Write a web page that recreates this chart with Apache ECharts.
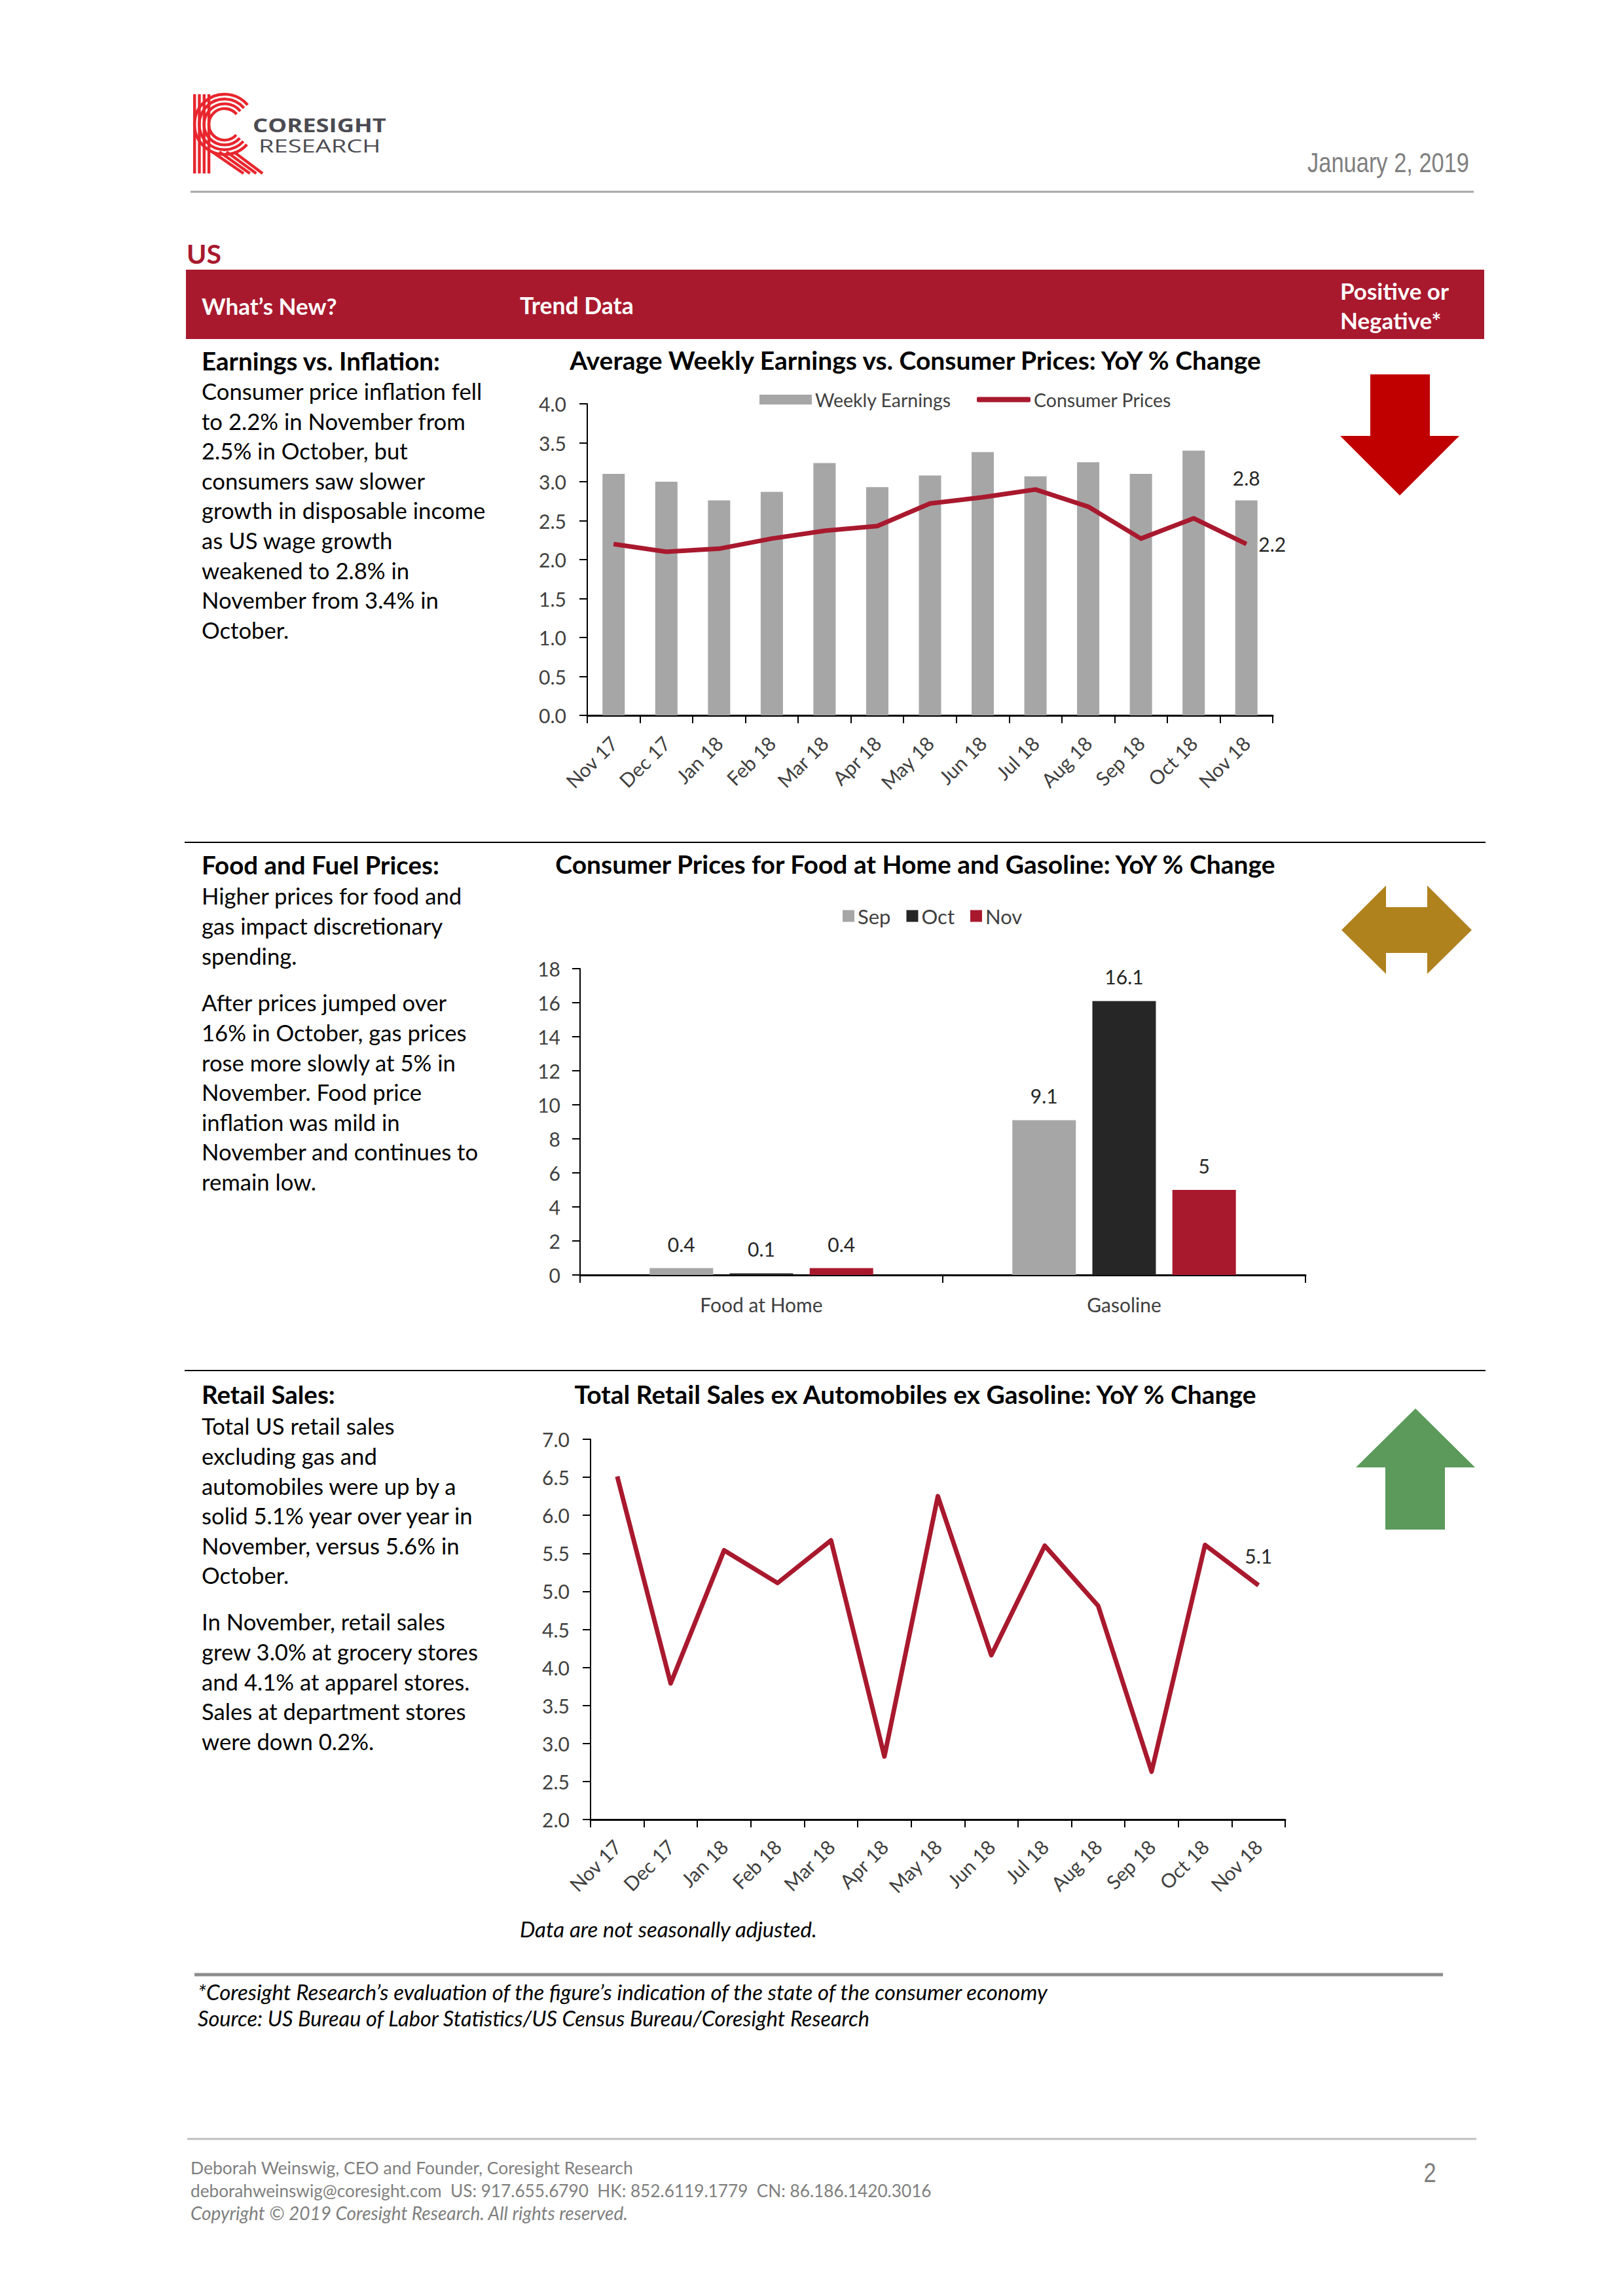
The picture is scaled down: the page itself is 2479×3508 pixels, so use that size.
<!DOCTYPE html>
<html><head><meta charset="utf-8">
<script src="https://cdn.jsdelivr.net/npm/echarts@6/dist/echarts.min.js"></script>
<style>html,body{margin:0;padding:0;background:#fff}#c{width:2479px;height:3508px}</style>
</head><body><div id="c"></div>
<script>
// ---------- DATA ----------
const months = ['Nov 17','Dec 17','Jan 18','Feb 18','Mar 18','Apr 18','May 18','Jun 18','Jul 18','Aug 18','Sep 18','Oct 18','Nov 18'];
const weeklyEarnings = [3.10,3.00,2.76,2.87,3.24,2.93,3.08,3.38,3.07,3.25,3.10,3.40,2.76];
const consumerPrices = [2.20,2.10,2.14,2.27,2.37,2.43,2.72,2.80,2.90,2.68,2.27,2.53,2.20];
const foodCategories = ['Food at Home','Gasoline'];
const sepValues = [0.4, 9.1];
const octValues = [0.1, 16.1];
const novValues = [0.4, 5];
const retailSales = [6.51,3.79,5.54,5.11,5.67,2.83,6.25,4.16,5.60,4.81,2.63,5.61,5.08];
const axis1 = {min:0, max:4, interval:0.5};
const axis2 = {min:0, max:18, interval:2};
const axis3 = {min:2, max:7, interval:0.5};

const RED = '#A9192E';
const FONT = 'Lato';
const BODY = 34.7;
const HEAD = 39;

// ---------- page graphics ----------
const G = [];
function T(s, x, base, size, o) {
  o = o || {};
  const el = {type:'text', x:x, y:base - 0.32*size, z:10, silent:true,
    style:{text:s, fontFamily:o.f||FONT, fontSize:size, fontWeight:o.w||'normal',
      fontStyle:o.i?'italic':'normal', fill:o.c||'#000', align:o.a||'left', verticalAlign:'middle'}};
  if (o.sx) { el.scaleX = o.sx; }
  G.push(el);
}
function P(lines, x, base, size, lh, o) { lines.forEach((l,k)=>T(l, x, base + k*lh, size, o)); }
function L(x1,y1,x2,y2,c,w) { G.push({type:'line', z:5, silent:true, shape:{x1,y1,x2,y2}, style:{stroke:c, lineWidth:w}}); }
function POLY(pts, c) { G.push({type:'polygon', z:5, silent:true, shape:{points:pts}, style:{fill:c}}); }

// logo
for (let i=0;i<4;i++) G.push({type:'rect', silent:true, shape:{x:295+i*7.3, y:144, width:4.4, height:121}, style:{fill:'#E8262E'}});
for (let i=0;i<4;i++) G.push({type:'arc', silent:true, shape:{cx:343, cy:190, r:46-i*7.3, startAngle:42*Math.PI/180, endAngle:320*Math.PI/180, clockwise:true}, style:{stroke:'#E8262E', lineWidth:4.4, fill:null}});
for (let i=0;i<4;i++) L(324+i*11, 232, 372+i*9.7, 265, '#E8262E', 4.4);
T('CORESIGHT', 386, 200, 28, {w:'bold', c:'#4B4B52', f:'"Open Sans"', sx:1.3});
T('RESEARCH', 395, 231, 28, {c:'#4B4B52', f:'"Open Sans"', sx:1.36});

// date & header rule
T('January 2, 2019', 2244, 262, 42, {f:'"Liberation Sans"', c:'#7F7F7F', a:'right', sx:0.82});
L(291, 293, 2251, 293, '#A6A6A6', 3);

// US + red band
T('US', 285, 401, 41, {w:'bold', c:RED});
G.push({type:'rect', silent:true, shape:{x:284, y:412, width:1983, height:106}, style:{fill:RED}});
T('What\u2019s New?', 308, 478, 35, {w:'bold', c:'#fff'});
T('Trend Data', 794, 478, 35.5, {w:'bold', c:'#fff'});
T('Positive or', 2047, 455, 35, {w:'bold', c:'#fff'});
T('Negative*', 2047, 500, 35, {w:'bold', c:'#fff'});

// section 1 text
T('Earnings vs. Inflation:', 308, 563, 38.5, {w:'bold'});
P(['Consumer price inflation fell','to 2.2% in November from','2.5% in October, but','consumers saw slower',
   'growth in disposable income','as US wage growth','weakened to 2.8% in','November from 3.4% in','October.'], 308, 608.6, BODY, 45.6);
T('Average Weekly Earnings vs. Consumer Prices: YoY % Change', 1398, 562, HEAD, {w:'bold', a:'center'});
POLY([[2093,572],[2184,572],[2184,666],[2229,666],[2138,757],[2047,666],[2093,666]], '#C00000');
L(282, 1287, 2269, 1287, '#000', 2);

// section 2 text
T('Food and Fuel Prices:', 308, 1333, 38.5, {w:'bold'});
P(['Higher prices for food and','gas impact discretionary','spending.'], 308, 1380, BODY, 45.6);
P(['After prices jumped over','16% in October, gas prices','rose more slowly at 5% in','November. Food price',
   'inflation was mild in','November and continues to','remain low.'], 308, 1543, BODY, 45.6);
T('Consumer Prices for Food at Home and Gasoline: YoY % Change', 1398, 1332, HEAD, {w:'bold', a:'center'});
POLY([[2049,1421],[2117,1353],[2117,1386],[2180,1386],[2180,1353],[2248,1421],[2180,1488],[2180,1456],[2117,1456],[2117,1488]], '#B0821E');
L(282, 2094, 2269, 2094, '#000', 2);

// section 3 text
T('Retail Sales:', 308, 2142, 38.5, {w:'bold'});
P(['Total US retail sales','excluding gas and','automobiles were up by a','solid 5.1% year over year in',
   'November, versus 5.6% in','October.'], 308, 2190, BODY, 45.6);
P(['In November, retail sales','grew 3.0% at grocery stores','and 4.1% at apparel stores.',
   'Sales at department stores','were down 0.2%.'], 308, 2489, BODY, 45.6);
T('Total Retail Sales ex Automobiles ex Gasoline: YoY % Change', 1398, 2142, HEAD, {w:'bold', a:'center'});
POLY([[2162,2152],[2253,2242],[2207,2242],[2207,2337],[2116,2337],[2116,2242],[2071,2242]], '#5B9A5B');
T('Data are not seasonally adjusted.', 794, 2958, 33, {i:true});

// footnotes
L(297, 3017, 2204, 3017, '#8C8C8C', 5);
T('*Coresight Research\u2019s evaluation of the figure\u2019s indication of the state of the consumer economy', 302, 3054, 33, {i:true});
T('Source: US Bureau of Labor Statistics/US Census Bureau/Coresight Research', 302, 3094, 32.5, {i:true});

// footer
L(286, 3268, 2255, 3268, '#BFBFBF', 3);
T('Deborah Weinswig, CEO and Founder, Coresight Research', 291, 3320, 26.5, {c:'#7F7F7F'});
T('deborahweinswig@coresight.com  US: 917.655.6790  HK: 852.6119.1779  CN: 86.186.1420.3016', 291, 3355, 26.2, {c:'#7F7F7F'});
T('Copyright \u00A9 2019 Coresight Research. All rights reserved.', 291, 3390, 28, {c:'#7F7F7F', i:true});
T('2', 2184, 3333, 42, {f:'"Liberation Sans"', c:'#7F7F7F', a:'center', sx:0.82});

// ---------- axes ----------
function catAxis(gi, data, rotate, fontSize, margin) {
  return {type:'category', gridIndex:gi, data:data, boundaryGap:true,
    axisLine:{show:true, lineStyle:{color:'#000', width:3}},
    axisTick:{show:true, alignWithLabel:false, length:12, lineStyle:{color:'#000', width:2}},
    axisLabel:{rotate:rotate, fontSize:fontSize, color:'#404040', margin:margin, fontFamily:FONT, interval:0},
    splitLine:{show:false}};
}
function valAxis(gi, a, dec, margin) {
  return {type:'value', gridIndex:gi, min:a.min, max:a.max, interval:a.interval,
    axisLine:{show:true, lineStyle:{color:'#000', width:2}},
    axisTick:{show:true, length:12, lineStyle:{color:'#000', width:2}},
    axisLabel:{fontSize:30, color:'#404040', margin:margin, fontFamily:FONT, formatter:v=>v.toFixed(dec)},
    splitLine:{show:false}};
}
function lastLabel(arr) { return arr.map((v,i)=> i===arr.length-1 ? {value:v, label:{show:true}} : v); }
const lblStyle = {fontSize:30, color:'#262626', fontFamily:FONT};

const option = {
  animation:false,
  textStyle:{fontFamily:FONT},
  grid:[
    {left:897, top:617, width:1047, height:476, outerBoundsMode:'none'},
    {left:886, top:1480, width:1108, height:468, outerBoundsMode:'none'},
    {left:902, top:2199, width:1061, height:581, outerBoundsMode:'none'}
  ],
  legend:[
    {left:1160, top:596, padding:0, itemWidth:80, itemHeight:15, icon:'rect', data:['Weekly Earnings'], textStyle:{fontSize:28.5, color:'#404040', fontFamily:FONT}},
    {left:1492, top:596, padding:0, itemWidth:82, itemHeight:8, icon:'roundRect', data:['Consumer Prices'], textStyle:{fontSize:28.5, color:'#404040', fontFamily:FONT}},
    {left:1287, top:1384, padding:0, itemWidth:18, itemHeight:18, itemGap:24, icon:'rect', data:['Sep','Oct','Nov'], textStyle:{fontSize:31, color:'#404040', fontFamily:FONT}}
  ],
  xAxis:[catAxis(0, months, 45, 30, 37), catAxis(1, foodCategories, 0, 30, 30), catAxis(2, months, 45, 30, 36)],
  yAxis:[valAxis(0, axis1, 1, 32), valAxis(1, axis2, 0, 30), valAxis(2, axis3, 1, 32)],
  series:[
    {name:'Weekly Earnings', type:'bar', xAxisIndex:0, yAxisIndex:0, data:lastLabel(weeklyEarnings), barWidth:34,
      itemStyle:{color:'#A6A6A6'}, label:Object.assign({show:false, position:'top', distance:20, formatter:p=>p.value.toFixed(1)}, lblStyle)},
    {name:'Consumer Prices', type:'line', xAxisIndex:0, yAxisIndex:0, data:lastLabel(consumerPrices), z:3,
      symbol:'circle', symbolSize:1, showSymbol:true, lineStyle:{color:RED, width:7, join:'round'}, itemStyle:{color:RED},
      label:Object.assign({show:false, position:'right', distance:18, formatter:p=>p.value.toFixed(1)}, lblStyle)},
    {name:'Sep', type:'bar', xAxisIndex:1, yAxisIndex:1, data:sepValues, barWidth:97, barGap:'26%', itemStyle:{color:'#A6A6A6'},
      label:Object.assign({show:true, position:'top', distance:22}, lblStyle)},
    {name:'Oct', type:'bar', xAxisIndex:1, yAxisIndex:1, data:octValues, barWidth:97, barGap:'26%', itemStyle:{color:'#262626'},
      label:Object.assign({show:true, position:'top', distance:22}, lblStyle)},
    {name:'Nov', type:'bar', xAxisIndex:1, yAxisIndex:1, data:novValues, barWidth:97, barGap:'26%', itemStyle:{color:RED},
      label:Object.assign({show:true, position:'top', distance:22}, lblStyle)},
    {name:'Retail Sales', type:'line', xAxisIndex:2, yAxisIndex:2, data:lastLabel(retailSales), z:3,
      symbol:'circle', symbolSize:1, showSymbol:true, lineStyle:{color:RED, width:7, join:'round'}, itemStyle:{color:RED},
      label:Object.assign({show:false, position:'top', distance:30, formatter:p=>p.value.toFixed(1)}, lblStyle)}
  ],
  graphic:G
};
const chart = echarts.init(document.getElementById('c'), null, {renderer:'svg', width:2479, height:3508});
chart.setOption(option);
</script>
</body></html>
